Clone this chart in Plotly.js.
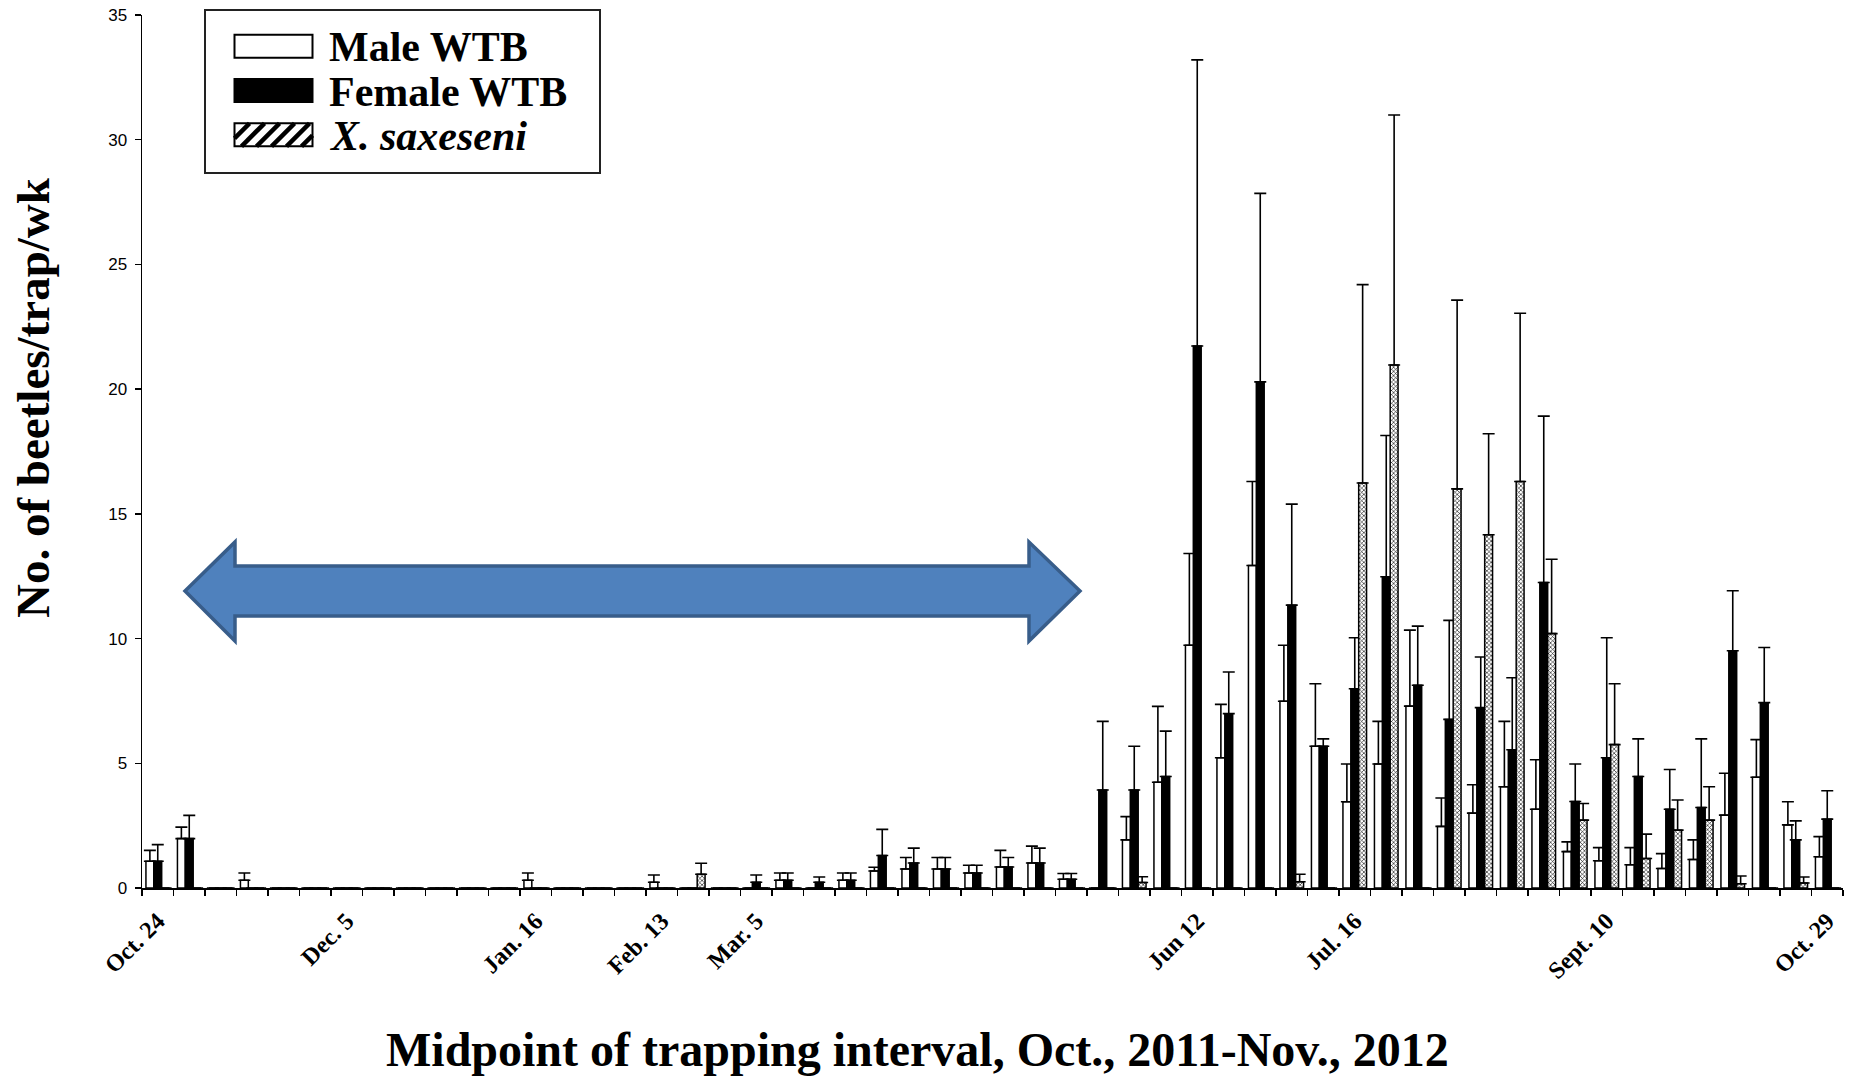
<!DOCTYPE html>
<html>
<head>
<meta charset="utf-8">
<script src="https://cdn.plot.ly/plotly-3.0.1.min.js"></script>
<style>
  html, body { margin: 0; padding: 0; background: #fff; }
  #chart { width: 1864px; height: 1081px; }
</style>
</head>
<body>
<div id="chart"></div>
<script>
// ---- DATA ----
const weeks = [
  '2011-10-24','2011-10-31','2011-11-07','2011-11-14','2011-11-21','2011-11-28','2011-12-05','2011-12-12','2011-12-19','2011-12-26',
  '2012-01-02','2012-01-09','2012-01-16','2012-01-23','2012-01-30','2012-02-06','2012-02-13','2012-02-20','2012-02-27','2012-03-05',
  '2012-03-12','2012-03-19','2012-03-26','2012-04-02','2012-04-09','2012-04-16','2012-04-23','2012-04-30','2012-05-07','2012-05-14',
  '2012-05-21','2012-05-28','2012-06-04','2012-06-11','2012-06-18','2012-06-25','2012-07-02','2012-07-09','2012-07-16','2012-07-23',
  '2012-07-30','2012-08-06','2012-08-13','2012-08-20','2012-08-27','2012-09-03','2012-09-10','2012-09-17','2012-09-24','2012-10-01',
  '2012-10-08','2012-10-15','2012-10-22','2012-10-29'
];
const labelWeeks = ['2011-10-24','2011-12-05','2012-01-16','2012-02-13','2012-03-05','2012-06-11','2012-07-16','2012-09-10','2012-10-29'];
const labelText  = ['Oct. 24','Dec. 5','Jan. 16','Feb. 13','Mar. 5','Jun 12','Jul. 16','Sept. 10','Oct. 29'];

const maleWTB = [1.07,1.98,0,0.31,0,0,0,0,0,0, 0,0,0.31,0,0,0,0.23,0,0,0,
  0.31,0,0.31,0.68,0.76,0.76,0.6,0.84,1.0,0.35, 0,1.93,4.24,9.73,5.22,12.93,7.49,5.68,3.46,4.97,
  7.29,2.47,3.0,4.06,3.16,1.46,1.09,0.93,0.78,1.14, 2.92,4.44,2.53,1.25];
const maleSE = [0.44,0.46,0,0.29,0,0,0,0,0,0, 0,0,0.29,0,0,0,0.29,0,0,0,
  0.29,0,0.29,0.15,0.46,0.46,0.31,0.67,0.68,0.23, 0,0.93,3.04,3.68,2.14,3.37,2.24,2.51,1.51,1.71,
  3.05,1.14,1.14,2.62,1.98,0.39,0.53,0.69,0.6,0.79, 1.68,1.51,0.93,0.81];

const femaleWTB = [1.07,1.98,0,0,0,0,0,0,0,0, 0,0,0,0,0,0,0,0,0,0.23,
  0.31,0.23,0.31,1.30,1.0,0.76,0.6,0.84,1.0,0.35, 3.93,3.93,4.47,21.73,6.99,20.29,11.34,5.68,7.99,12.48,
  8.13,6.76,7.23,5.54,12.25,3.47,5.22,4.47,3.16,3.23, 9.51,7.43,1.93,2.76];
const femaleSE = [0.67,0.93,0,0,0,0,0,0,0,0, 0,0,0,0,0,0,0,0,0,0.29,
  0.29,0.21,0.29,1.05,0.6,0.46,0.31,0.38,0.6,0.23, 2.75,1.75,1.82,11.47,1.67,7.56,4.05,0.3,2.04,5.66,
  2.37,3.97,2.03,2.89,6.67,1.5,4.81,1.51,1.59,2.75, 2.41,2.21,0.76,1.14];

const xSaxeseni = [0,0,0,0,0,0,0,0,0,0, 0,0,0,0,0,0,0,0.55,0,0,
  0,0,0,0,0,0,0,0,0,0, 0,0.22,0,0,0,0,0.25,0,16.24,20.97,
  0,16.0,14.16,16.3,10.2,2.72,5.75,1.18,2.32,2.72, 0.17,0,0.2,0];
const xSaxeseniSE = [0,0,0,0,0,0,0,0,0,0, 0,0,0,0,0,0,0,0.44,0,0,
  0,0,0,0,0,0,0,0,0,0, 0,0.23,0,0,0,0,0.3,0,7.95,10.02,
  0,7.57,4.05,6.74,2.98,0.67,2.44,0.98,1.21,1.34, 0.31,0,0.24,0];

const seriesNames = ['Male WTB', 'Female WTB', '<i>X. saxeseni</i>'];

// ---- GEOMETRY / STYLE ----
const W = 1864, H = 1081;
const M = { l: 142, r: 21, t: 15, b: 193 };
const pw = W - M.l - M.r, ph = H - M.t - M.b;
const px = p => (p - M.l) / pw;
const py = p => (H - M.b - p) / ph;

const errs = se => se.map(v => v > 0 ? v : NaN);
function errorStyle(se) {
  return { type: 'data', symmetric: false, array: errs(se), arrayminus: se.map(() => 0),
           color: '#000', thickness: 1.6, width: 6 };
}
const outline = { color: '#000', width: 1.5 };

const traces = [
  { type: 'bar', name: seriesNames[0], x: weeks, y: maleWTB,
    marker: { color: '#ffffff', line: outline }, error_y: errorStyle(maleSE) },
  { type: 'bar', name: seriesNames[1], x: weeks, y: femaleWTB,
    marker: { color: '#000000', line: outline }, error_y: errorStyle(femaleSE) },
  { type: 'bar', name: seriesNames[2], x: weeks, y: xSaxeseni,
    marker: { color: '#ffffff', line: outline,
              pattern: { shape: 'x', size: 3, solidity: 0.35, fgcolor: '#000', bgcolor: '#fff' } },
    error_y: errorStyle(xSaxeseniSE) }
];

const ticktext = weeks.map(w => { const i = labelWeeks.indexOf(w); return i >= 0 ? labelText[i] : ''; });

const serif = 'Liberation Serif, Times New Roman, serif';
const sans = 'Liberation Sans, Arial, sans-serif';

// ---- shapes: arrow + legend box ----
const shapes = [];
const arrowPts = [[185,591],[235,542],[235,566],[1029,566],[1029,542],[1080,591],[1029,641],[1029,616],[235,616],[235,641]];
shapes.push({
  type: 'path', xref: 'paper', yref: 'paper',
  path: 'M' + arrowPts.map(p => px(p[0]).toFixed(5) + ',' + py(p[1]).toFixed(5)).join('L') + 'Z',
  fillcolor: '#4F81BD', line: { color: '#385D8A', width: 3.5 }, layer: 'above'
});
// legend frame
shapes.push({ type: 'rect', xref: 'paper', yref: 'paper',
  x0: px(205), x1: px(600), y0: py(10), y1: py(173),
  line: { color: '#222', width: 2 }, fillcolor: '#fff', layer: 'above' });
const swL = 234.5, swR = 312.5, rowsY = [46.2, 90.5, 134.8], swH = 23;
const swFill = ['#ffffff', '#000000', '#ffffff'];
rowsY.forEach((cy, i) => {
  shapes.push({ type: 'rect', xref: 'paper', yref: 'paper',
    x0: px(swL), x1: px(swR), y0: py(cy + swH/2), y1: py(cy - swH/2),
    fillcolor: swFill[i], line: { color: '#000', width: 2 }, layer: 'above' });
});
// hatching of the third swatch
(function () {
  const top = rowsY[2] - swH/2, bot = rowsY[2] + swH/2, h = swH;
  for (let x0 = swL - h; x0 < swR; x0 += 15) {
    const t0 = Math.max(0, swL - x0), t1 = Math.min(h, swR - x0);
    if (t1 <= t0) continue;
    shapes.push({ type: 'line', xref: 'paper', yref: 'paper',
      x0: px(x0 + t0), y0: py(bot - t0), x1: px(x0 + t1), y1: py(bot - t1),
      line: { color: '#000', width: 4.5 }, layer: 'above' });
  }
})();

const annotations = seriesNames.map((n, i) => ({
  xref: 'paper', yref: 'paper', x: px(327), y: py(rowsY[i] + 1), xanchor: 'left', yanchor: 'middle',
  text: n, showarrow: false, font: { family: serif, size: 42, color: '#000', weight: 'bold' }
}));
annotations.push({
  xref: 'paper', yref: 'paper', x: px(917), y: py(1049), xanchor: 'center', yanchor: 'middle',
  text: 'Midpoint of trapping interval, Oct., 2011-Nov., 2012', showarrow: false,
  font: { family: serif, size: 48, color: '#000', weight: 'bold' }
});
annotations.push({
  xref: 'paper', yref: 'paper', x: px(33), y: py(398), xanchor: 'center', yanchor: 'middle',
  text: 'No. of beetles/trap/wk', textangle: -90, showarrow: false,
  font: { family: serif, size: 47, color: '#000', weight: 'bold' }
});

const layout = {
  width: W, height: H, margin: M,
  paper_bgcolor: '#fff', plot_bgcolor: '#fff',
  showlegend: false,
  barmode: 'group', bargap: 0.25, bargroupgap: 0,
  xaxis: {
    type: 'category', categoryorder: 'array', categoryarray: weeks,
    tickmode: 'array', tickvals: weeks, ticktext: ticktext, tickson: 'boundaries',
    ticks: 'outside', ticklen: 6, tickwidth: 1.5, tickcolor: '#000', ticklabelstandoff: 8,
    tickangle: -45, tickfont: { family: serif, size: 24, color: '#000', weight: 'bold' },
    showline: true, linecolor: '#000', linewidth: 1.5, showgrid: false, zeroline: false
  },
  yaxis: {
    range: [0, 35], tickmode: 'linear', tick0: 0, dtick: 5,
    ticks: 'outside', ticklen: 6, tickwidth: 1.5, tickcolor: '#000', ticklabelstandoff: 4,
    tickfont: { family: sans, size: 17, color: '#000' },
    showline: true, linecolor: '#000', linewidth: 1.5, showgrid: false, zeroline: false
  },
  shapes: shapes,
  annotations: annotations
};

Plotly.newPlot('chart', traces, layout, { displayModeBar: false, staticPlot: true });
</script>
</body>
</html>
